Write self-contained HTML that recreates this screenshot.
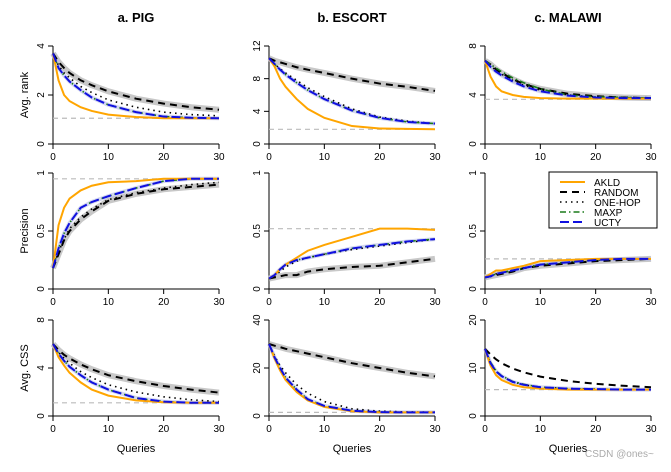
<!DOCTYPE html>
<html><head><meta charset="utf-8"><style>
body{margin:0;background:#fff;width:671px;height:467px;overflow:hidden}
svg{font-family:"Liberation Sans",sans-serif}
</style></head><body>
<svg id="c" width="671" height="467" xmlns="http://www.w3.org/2000/svg"></svg>
<script>
const xs=[0,1,2,3,5,7,10,15,20,25,30];
const seriesNames=["AKLD","RANDOM","ONE-HOP","MAXP","UCTY"];
const titles=["a. PIG","b. ESCORT","c. MALAWI"];
const rowLabels=["Avg. rank","Precision","Avg. CSS"];
const yMax=[[4,12,8],[1,1,1],[8,40,20]];
const yTicks=[[[0,2,4],[0,4,8,12],[0,4,8]],[[0,0.5,1],[0,0.5,1],[0,0.5,1]],[[0,4,8],[0,20,40],[0,10,20]]];
const refs=[[1.05,1.8,3.65],[0.95,0.52,0.26],[1.1,1.5,5.5]];
const rankA=[[3.7,2.6,2.0,1.75,1.5,1.35,1.2,1.1,1.05,1.05,1.05],[3.7,3.35,3.1,2.9,2.6,2.4,2.15,1.85,1.65,1.5,1.4],[3.7,3.2,2.9,2.7,2.35,2.1,1.8,1.5,1.3,1.2,1.15],[3.7,3.1,2.8,2.55,2.2,1.9,1.6,1.3,1.12,1.07,1.05],[3.7,3.1,2.8,2.55,2.2,1.9,1.6,1.3,1.12,1.07,1.05]];
const rankB=[[10.5,9.5,8,7,5.5,4.3,3.2,2.2,1.9,1.85,1.8],[10.5,10.2,10,9.8,9.4,9.1,8.7,8,7.4,7,6.5],[10.5,9.8,9.2,8.7,7.8,6.9,5.8,4.3,3.3,2.8,2.5],[10.5,9.8,9.1,8.5,7.5,6.6,5.5,4.1,3.2,2.7,2.5],[10.5,9.8,9.1,8.5,7.5,6.6,5.5,4.1,3.2,2.7,2.5]];
const rankC=[[6.8,5.5,4.7,4.3,4.0,3.85,3.75,3.7,3.7,3.7,3.7],[6.8,6.5,6.1,5.8,5.3,4.9,4.5,4.1,3.9,3.8,3.75],[6.8,6.4,6.0,5.7,5.2,4.8,4.4,4.0,3.85,3.8,3.75],[6.8,6.5,6.2,5.9,5.4,5.0,4.5,4.0,3.85,3.8,3.75],[6.8,6.3,5.9,5.6,5.1,4.7,4.3,3.95,3.8,3.75,3.75]];
const precA=[[0.18,0.55,0.7,0.78,0.85,0.89,0.92,0.93,0.95,0.95,0.95],[0.18,0.3,0.42,0.5,0.6,0.67,0.76,0.82,0.86,0.88,0.9],[0.18,0.32,0.43,0.52,0.62,0.69,0.77,0.83,0.87,0.9,0.92],[0.18,0.35,0.48,0.57,0.7,0.75,0.8,0.87,0.93,0.95,0.95],[0.18,0.35,0.48,0.57,0.7,0.75,0.8,0.87,0.93,0.95,0.95]];
const precB=[[0.09,0.12,0.17,0.21,0.27,0.33,0.38,0.45,0.52,0.52,0.51],[0.09,0.1,0.11,0.12,0.12,0.15,0.17,0.19,0.2,0.23,0.26],[0.09,0.11,0.15,0.19,0.24,0.27,0.3,0.34,0.37,0.4,0.43],[0.09,0.12,0.17,0.21,0.25,0.27,0.3,0.35,0.38,0.41,0.43],[0.09,0.12,0.17,0.21,0.25,0.27,0.3,0.35,0.38,0.41,0.43]];
const precC=[[0.1,0.13,0.16,0.16,0.18,0.2,0.24,0.25,0.26,0.26,0.26],[0.1,0.11,0.12,0.13,0.15,0.18,0.2,0.22,0.24,0.25,0.26],[0.1,0.11,0.13,0.14,0.16,0.18,0.21,0.23,0.25,0.26,0.26],[0.1,0.11,0.13,0.14,0.16,0.18,0.21,0.23,0.25,0.26,0.26],[0.1,0.11,0.13,0.14,0.16,0.18,0.21,0.23,0.25,0.26,0.26]];
const cssA=[[6,4.9,4.2,3.6,2.8,2.2,1.7,1.3,1.15,1.1,1.1],[6,5.5,5.1,4.8,4.3,3.9,3.4,2.9,2.5,2.2,1.95],[6,5.3,4.8,4.4,3.7,3.2,2.6,2.0,1.6,1.35,1.2],[6,5.2,4.6,4.1,3.4,2.8,2.2,1.5,1.2,1.1,1.1],[6,5.2,4.6,4.1,3.4,2.8,2.2,1.5,1.2,1.1,1.1]];
const cssB=[[30,24,19,15,10,6.5,3.8,2,1.5,1.5,1.5],[30,29.3,28.7,28,27,26,24.5,22,20,18,16.5],[30,25,21,18,13,9.5,6,3,2,1.7,1.6],[30,24.5,20,16,11,7,4.2,2.2,1.6,1.5,1.5],[30,24.5,20,16,11,7,4.2,2.2,1.6,1.5,1.5]];
const cssC=[[14,10.5,8.5,7.5,6.5,6.0,5.7,5.5,5.5,5.5,5.5],[14,12.8,11.8,11,9.9,9.1,8.2,7.3,6.7,6.3,6],[14,11,9.3,8.3,7.1,6.5,6.0,5.7,5.6,5.5,5.5],[14,11.2,9.4,8.4,7.2,6.6,6.0,5.7,5.6,5.5,5.5],[14,11,9.3,8.3,7.1,6.5,6.0,5.7,5.6,5.5,5.5]];
const panels=[[rankA,rankB,rankC],[precA,precB,precC],[cssA,cssB,cssC]];
const colX=[[53,219],[269,435],[485,651]];
const rowY=[[46,144],[173,289],[320,416]];
const styles=[{c:"#FFA500",d:"",w:2},{c:"#000",d:"7,5",w:2},{c:"#000",d:"1.5,4",w:1.6},{c:"#1a7a1a",d:"6,3,1.5,3",w:1.6},{c:"#1010e0",d:"9,4",w:2}];
const svg=document.getElementById('c');
const NS="http://www.w3.org/2000/svg";
function mk(t,a,p){const e=document.createElementNS(NS,t);for(const k in a)e.setAttribute(k,a[k]);(p||svg).appendChild(e);return e;}
titles.forEach((t,i)=>{const e=mk('text',{x:(colX[i][0]+colX[i][1])/2,y:22,'text-anchor':'middle','font-size':13,'font-weight':'bold'});e.textContent=t;

});
for(let r=0;r<3;r++){
 const yl=mk('text',{transform:`translate(28,${(rowY[r][0]+rowY[r][1])/2}) rotate(-90)`,'text-anchor':'middle','font-size':11});yl.textContent=rowLabels[r];
 
 
 for(let c=0;c<3;c++){
  const g=mk('g',{});
  
  
  const [x0,x1]=colX[c],[yt,yb]=rowY[r];
  const X=v=>x0+(x1-x0)*v/30, Y=v=>yb-(yb-yt)*v/yMax[r][c];
  mk('line',{x1:x0,x2:x0,y1:yt,y2:yb,stroke:'#555','stroke-width':1.5},g);
  mk('line',{x1:x0,x2:x1,y1:yb,y2:yb,stroke:'#000','stroke-width':1},g);
  yTicks[r][c].forEach(t=>{mk('line',{x1:x0-5,x2:x0,y1:Y(t),y2:Y(t),stroke:'#000'},g);
   const e=mk('text',{transform:`translate(${x0-9},${Y(t)}) rotate(-90)`,'text-anchor':'middle','font-size':10},g);e.textContent=t;});
  [0,10,20,30].forEach(t=>{mk('line',{x1:X(t),x2:X(t),y1:yb,y2:yb+5,stroke:'#000'},g);
   const e=mk('text',{x:X(t),y:yb+16,'text-anchor':'middle','font-size':10},g);e.textContent=t;});
  if(r==2){const q=mk('text',{x:(x0+x1)/2,y:452,'text-anchor':'middle','font-size':11},g);q.textContent='Queries';
   }
  mk('line',{x1:x0,x2:x1,y1:Y(refs[r][c]),y2:Y(refs[r][c]),stroke:'#bbb','stroke-dasharray':'5,4','stroke-width':1.2},g);
  const data=panels[r][c];
  const pts=s=>xs.map((x,i)=>X(x)+','+Y(s[i])).join(' ');
  if(!(r==2&&c==2)) mk('polyline',{points:pts(data[1]),fill:'none',stroke:'#c8c8c8','stroke-width':6,'stroke-linejoin':'round'},g);
  mk('polyline',{points:pts(data[4]),fill:'none',stroke:'#b8bce8','stroke-width':4,'opacity':0.6},g);
  [1,2,3,0,4].forEach(k=>{const s=styles[k];
   const p=mk('polyline',{points:pts(data[k]),fill:'none',stroke:s.c,'stroke-width':s.w,'stroke-dasharray':s.d},g);
   
   });
 }
}
const lg=mk('g',{});


mk('rect',{x:549,y:172,width:108,height:56,fill:'#fff',stroke:'#000','stroke-width':1},lg);
seriesNames.forEach((n,i)=>{const s=styles[i],y=182+i*10;
 mk('line',{x1:560,x2:585,y1:y,y2:y,stroke:s.c,'stroke-width':s.w,'stroke-dasharray':s.d},lg);
 const t=mk('text',{x:594,y:y+4,'font-size':10},lg);t.textContent=n;
 
 });
const wm=mk('text',{x:585,y:457,'font-size':10,fill:'#aaa'});wm.textContent='CSDN @ones~';


</script>
</body></html>
